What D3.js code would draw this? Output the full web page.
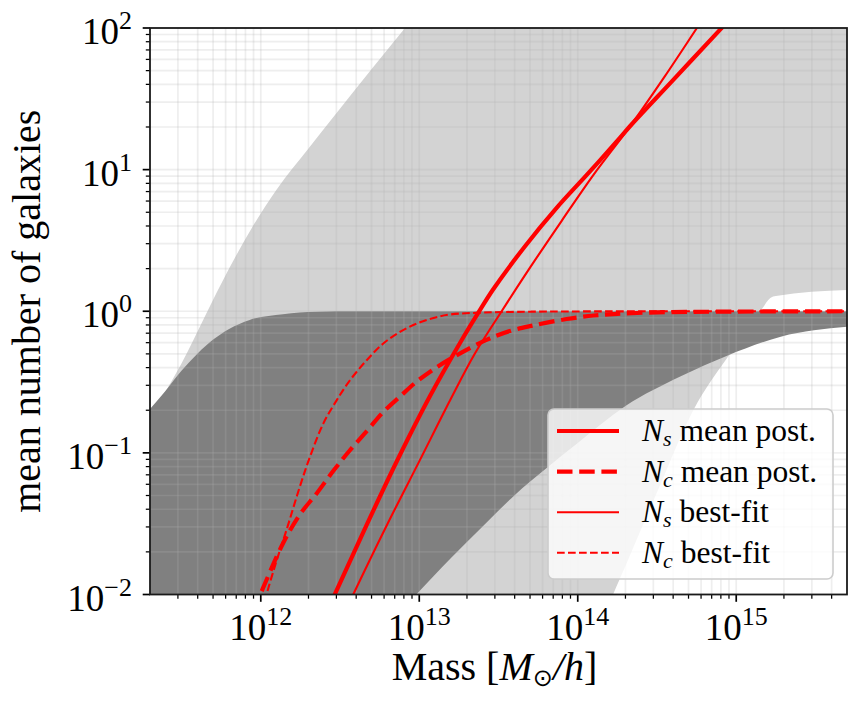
<!DOCTYPE html>
<html>
<head>
<meta charset="utf-8">
<script src="https://cdn.jsdelivr.net/npm/d3@7"></script>
<style>
  html, body { margin: 0; padding: 0; background: #fff; }
  svg { display: block; }
  text { font-family: "Liberation Serif", "DejaVu Serif", serif; fill: #000; }
</style>
</head>
<body>
<svg id="chart" width="862" height="711"></svg>
<script>
// ---------------- data ----------------
// Satellite occupation, mean posterior
const nsMeanMass = [2.63e12, 2.93e12, 4.65e12, 7.36e12, 1.167e13, 1.85e13, 2.36e13, 2.93e13, 4.65e13, 7.36e13, 1.167e14, 1.85e14, 2.15e14, 3.98e14, 7.94e14, 1.0e15];
const nsMeanN    = [0.00776, 0.0100, 0.0309, 0.0912, 0.251, 0.624, 0.977, 1.43, 2.88, 5.37, 9.44, 16.8, 20.4, 42.7, 97.7, 129];
// Central occupation, mean posterior
const ncMeanMass = [8.91e11, 1.0e12, 1.38e12, 1.78e12, 2.24e12, 2.88e12, 3.63e12, 4.68e12, 5.89e12, 7.59e12, 9.55e12, 1.23e13, 1.55e13, 2.51e13, 3.72e13, 5.25e13, 8.51e13, 1.26e14, 1.78e14, 3.16e14, 7.59e14, 5.0e15];
const ncMeanN    = [0.0076, 0.0102, 0.0229, 0.0372, 0.0513, 0.075, 0.1035, 0.143, 0.193, 0.251, 0.316, 0.389, 0.457, 0.61, 0.724, 0.794, 0.881, 0.933, 0.959, 0.982, 0.993, 1.0];
// Satellite occupation, best fit
const nsBestMass = [3.47e12, 3.83e12, 6.31e12, 1.0e13, 1.58e13, 2.24e13, 3.31e13, 5.01e13, 7.94e13, 1.26e14, 2.15e14, 3.55e14, 5.65e14, 7.94e14];
const nsBestN    = [0.0079, 0.010, 0.0316, 0.0871, 0.240, 0.501, 1.00, 2.04, 4.37, 9.23, 20.4, 45.7, 100, 178];
// Central occupation, best fit
const ncBestMass = [9.77e11, 1.09e12, 1.26e12, 1.45e12, 1.76e12, 2.04e12, 2.48e12, 3.01e12, 3.65e12, 4.66e12, 5.93e12, 7.55e12, 9.64e12, 1.23e13, 1.56e13, 2.54e13, 5.01e13, 1.58e14, 5.0e15];
const ncBestN    = [0.0063, 0.0101, 0.0174, 0.0283, 0.0573, 0.0933, 0.161, 0.235, 0.325, 0.451, 0.592, 0.714, 0.818, 0.897, 0.948, 0.979, 0.993, 0.998, 1.0];

// Satellite band (light) — upper and lower edges
const nsBandUpperMass = [2.0e11, 2.42e11, 3.16e11, 4.47e11, 6.31e11, 8.91e11, 1.26e12, 2.0e12, 3.16e12, 5.01e12, 8.13e12, 1.58e13, 5.0e15];
const nsBandUpperN    = [0.19, 0.256, 0.427, 0.933, 2.0, 3.98, 7.24, 14.1, 26.9, 51.3, 100, 251, 6.3e5];
const nsBandLowerMass = [2.0e11, 1.45e14, 1.67e14, 1.85e14, 3.16e14, 5.36e14, 9.18e14, 1.46e15, 1.64e15, 1.78e15, 5.0e15];
const nsBandLowerN    = [0.001, 0.0069, 0.010, 0.013, 0.0525, 0.20, 0.505, 1.045, 1.24, 1.28, 1.41];
// Central band (dark) — upper and lower edges
const ncBandUpperMass = [2.0e11, 2.51e11, 3.16e11, 3.98e11, 5.01e11, 6.31e11, 8.51e11, 1.38e12, 2.24e12, 3.98e12, 5.0e15];
const ncBandUpperN    = [0.204, 0.275, 0.380, 0.501, 0.631, 0.750, 0.869, 0.953, 0.993, 1.0, 1.0];
const ncBandLowerMass = [2.0e11, 7.94e12, 9.64e12, 1.58e13, 2.51e13, 3.98e13, 6.31e13, 1.0e14, 2.0e14, 4.47e14, 8.91e14, 1.91e15, 5.0e15];
const ncBandLowerN    = [0.001, 0.0081, 0.0101, 0.018, 0.0302, 0.0501, 0.0776, 0.1175, 0.214, 0.347, 0.49, 0.661, 0.776];

const xTickExponents = [12, 13, 14, 15];
const yTickExponents = [-2, -1, 0, 1, 2];
const legendSubscripts = ["s", "c", "s", "c"];
const legendTexts = [" mean post.", " mean post.", " best-fit", " best-fit"];
const xLabelParts = ["Mass [", "M", "\u2299", "/h", "]"];
const yLabel = "mean number of galaxies";

// ---------------- layout ----------------
const L = 150, R = 847, T = 28, B = 594.5;
const svg = d3.select("#chart");
const x = d3.scaleLog().domain([2e11, 5e15]).range([L, R]);
const y = d3.scaleLog().domain([0.01, 100]).range([B, T]);

const zip = (ms, ns) => ms.map((m, i) => [m, ns[i]]);

svg.append("defs").append("clipPath").attr("id", "plotclip")
  .append("rect").attr("x", L).attr("y", T).attr("width", R - L).attr("height", B - T);

const plot = svg.append("g").attr("clip-path", "url(#plotclip)");

const bandLine = d3.line().x(d => x(d[0])).y(d => y(d[1])).curve(d3.curveMonotoneX);
function bandPath(up, low) {
  const a = bandLine(up);
  const b = bandLine(low.slice().reverse());
  return a + "L" + b.slice(1) + "Z";
}

plot.append("path")
  .attr("d", bandPath(zip(nsBandUpperMass, nsBandUpperN), zip(nsBandLowerMass, nsBandLowerN)))
  .attr("fill", "#d3d3d3");
plot.append("path")
  .attr("d", bandPath(zip(ncBandUpperMass, ncBandUpperN), zip(ncBandLowerMass, ncBandLowerN)))
  .attr("fill", "#808080");

// grid (drawn over fills, like matplotlib)
const xAll = x.ticks().filter(v => v > 2.01e11 && v < 4.99e15);
const yAll = y.ticks();
const grid = plot.append("g").attr("stroke", "#b0b0b0").attr("stroke-opacity", 0.22).attr("stroke-width", 1.7);
grid.selectAll("line.gx").data(xAll).join("line")
  .attr("x1", d => x(d)).attr("x2", d => x(d)).attr("y1", T).attr("y2", B);
grid.selectAll("line.gy").data(yAll).join("line")
  .attr("y1", d => y(d)).attr("y2", d => y(d)).attr("x1", L).attr("x2", R);

// curves
const curveLine = d3.line().x(d => x(d[0])).y(d => y(d[1])).curve(d3.curveCatmullRom.alpha(0.5));
const curves = [
  {d: zip(nsMeanMass, nsMeanN), w: 4.2, dash: null},
  {d: zip(ncMeanMass, ncMeanN), w: 4.2, dash: "15.5,6.7"},
  {d: zip(nsBestMass, nsBestN), w: 2.1, dash: null},
  {d: zip(ncBestMass, ncBestN), w: 2.1, dash: "7.7,3.3"}
];
curves.forEach(c => {
  plot.append("path").attr("d", curveLine(c.d))
    .attr("fill", "none").attr("stroke", "#ff0000")
    .attr("stroke-width", c.w).attr("stroke-dasharray", c.dash);
});

// axes ticks
const axes = svg.append("g");
const xMajor = xTickExponents.map(e => Math.pow(10, e));
const xMinor = xAll.filter(v => !xMajor.some(m => Math.abs(v / m - 1) < 1e-6));
const yMajor = yTickExponents.map(e => Math.pow(10, e));
const yMinor = yAll.filter(v => !yMajor.some(m => Math.abs(v / m - 1) < 1e-6));

axes.selectAll("line.xmaj").data(xMajor).join("line")
  .attr("x1", d => x(d)).attr("x2", d => x(d)).attr("y1", B).attr("y2", B + 7.3)
  .attr("stroke", "#000").attr("stroke-width", 1.7);
axes.selectAll("line.xmin").data(xMinor).join("line")
  .attr("x1", d => x(d)).attr("x2", d => x(d)).attr("y1", B).attr("y2", B + 4.2)
  .attr("stroke", "#000").attr("stroke-width", 1.25);
axes.selectAll("line.ymaj").data(yMajor).join("line")
  .attr("y1", d => y(d)).attr("y2", d => y(d)).attr("x1", L).attr("x2", L - 7.3)
  .attr("stroke", "#000").attr("stroke-width", 1.7);
axes.selectAll("line.ymin").data(yMinor).join("line")
  .attr("y1", d => y(d)).attr("y2", d => y(d)).attr("x1", L).attr("x2", L - 4.2)
  .attr("stroke", "#000").attr("stroke-width", 1.25);

// frame
svg.append("rect").attr("x", L).attr("y", T).attr("width", R - L).attr("height", B - T)
  .attr("fill", "none").attr("stroke", "#1a1a1a").attr("stroke-width", 1.8);

// tick labels
const fsMain = 37, fsSup = 26;
xTickExponents.forEach(e => {
  const t = svg.append("text").attr("x", x(Math.pow(10, e))).attr("y", 640)
    .attr("text-anchor", "middle").attr("font-size", fsMain);
  t.append("tspan").text("10");
  t.append("tspan").attr("font-size", fsSup).attr("dy", -15).text(String(e));
});
yTickExponents.forEach(e => {
  const t = svg.append("text").attr("x", 132).attr("y", y(Math.pow(10, e)) + 16)
    .attr("text-anchor", "end").attr("font-size", fsMain);
  t.append("tspan").text("10");
  t.append("tspan").attr("font-size", fsSup).attr("dy", -15)
    .text(e < 0 ? "\u2212" + Math.abs(e) : String(e));
});

// axis labels
const xl = svg.append("text").attr("x", (L + R) / 2 - 4).attr("y", 680)
  .attr("text-anchor", "middle").attr("font-size", 40);
xl.append("tspan").text(xLabelParts[0]);
xl.append("tspan").attr("font-style", "italic").text(xLabelParts[1]);
xl.append("tspan").attr("font-family", "DejaVu Sans").attr("font-size", 24).attr("dy", 6).text(xLabelParts[2]);
xl.append("tspan").attr("font-style", "italic").attr("dy", -6).text(xLabelParts[3]);
xl.append("tspan").text(xLabelParts[4]);

svg.append("text").attr("transform", `translate(40,${(T + B) / 2}) rotate(-90)`)
  .attr("text-anchor", "middle").attr("font-size", 40).text(yLabel);

// legend
const lg = svg.append("g");
lg.append("rect").attr("x", 548).attr("y", 409).attr("width", 285).attr("height", 170)
  .attr("rx", 6).attr("fill", "#fff").attr("fill-opacity", 0.8)
  .attr("stroke", "#cccccc").attr("stroke-width", 1.6);
curves.forEach((c, i) => {
  const cy = 431 + i * 40.6;
  lg.append("line").attr("x1", 557).attr("x2", 619).attr("y1", cy).attr("y2", cy)
    .attr("stroke", "#ff0000").attr("stroke-width", c.w).attr("stroke-dasharray", c.dash);
  const t = lg.append("text").attr("x", 642).attr("y", cy + 10).attr("font-size", 31.5);
  t.append("tspan").attr("font-style", "italic").text("N");
  t.append("tspan").attr("font-style", "italic").attr("font-size", 22).attr("dy", 5).text(legendSubscripts[i]);
  t.append("tspan").attr("dy", -5).text(legendTexts[i]);
});
</script>
</body>
</html>
